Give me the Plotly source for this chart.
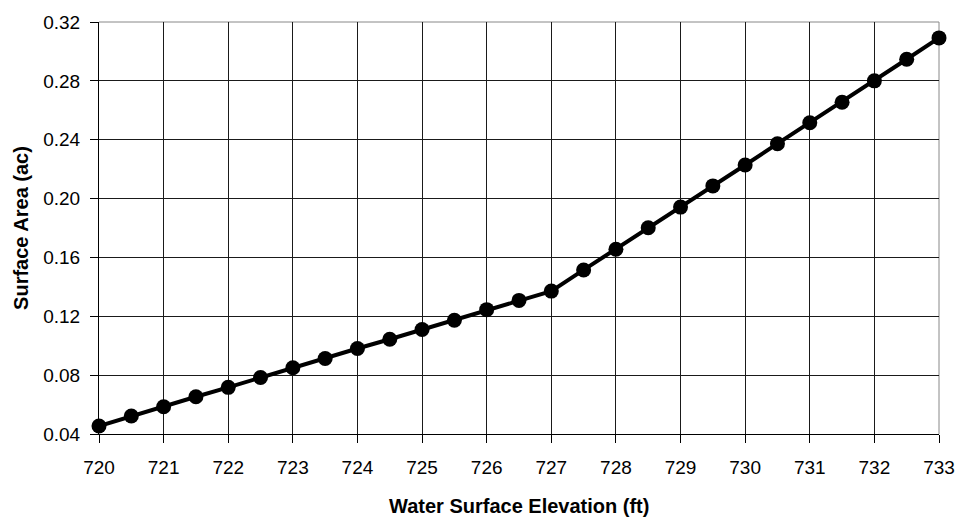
import plotly.graph_objects as go

elevation_ft = [720, 720.5, 721, 721.5, 722, 722.5, 723, 723.5, 724, 724.5,
                725, 725.5, 726, 726.5, 727, 727.5, 728, 728.5, 729, 729.5,
                730, 730.5, 731, 731.5, 732, 732.5, 733]
surface_area_ac = [0.0454, 0.0522, 0.0585, 0.0653, 0.0717, 0.0784, 0.0850, 0.0913,
                   0.0981, 0.1044, 0.1110, 0.1173, 0.1245, 0.1308, 0.1371, 0.1515,
                   0.1656, 0.1802, 0.1942, 0.2086, 0.2228, 0.2373, 0.2515, 0.2655,
                   0.2800, 0.2947, 0.3092]

x_title = "Water Surface Elevation (ft)"
y_title = "Surface Area (ac)"

FONT = "Liberation Sans, Arial, sans-serif"

fig = go.Figure()
fig.add_trace(go.Scatter(
    x=elevation_ft, y=surface_area_ac, mode="lines+markers",
    line=dict(color="black", width=4),
    marker=dict(color="black", size=15),
    cliponaxis=False, showlegend=False, hoverinfo="skip",
))

fig.update_layout(
    width=967, height=519,
    margin=dict(l=99, r=19, t=20, b=85),
    paper_bgcolor="white", plot_bgcolor="white",
    font=dict(family=FONT, size=19, color="black"),
    xaxis=dict(
        range=[720, 733], tick0=720, dtick=1,
        showgrid=True, gridcolor="#1a1a1a", gridwidth=1,
        showline=True, linecolor="black", linewidth=1,
        ticks="outside", ticklen=8, tickcolor="black",
        ticklabelstandoff=8, zeroline=False,
    ),
    yaxis=dict(
        range=[0.04, 0.32], tick0=0.04, dtick=0.04, tickformat=".2f",
        showgrid=True, gridcolor="#1a1a1a", gridwidth=1,
        showline=True, linecolor="black", linewidth=1,
        ticks="outside", ticklen=8, tickcolor="black",
        ticklabelstandoff=6, zeroline=False,
    ),
    shapes=[
        dict(type="line", xref="paper", yref="paper", x0=0, x1=1, y0=1, y1=1,
             line=dict(color="#888", width=1), layer="between"),
        dict(type="line", xref="paper", yref="paper", x0=1, x1=1, y0=0, y1=1,
             line=dict(color="#888", width=1), layer="between"),
    ],
    annotations=[
        dict(text=f"<b>{x_title}</b>", xref="paper", yref="paper",
             x=0.5, y=-0.1739, xanchor="center", yanchor="middle",
             showarrow=False, font=dict(family=FONT, size=20)),
        dict(text=f"<b>{y_title}</b>", xref="paper", yref="paper",
             x=-0.093, y=0.5, xanchor="center", yanchor="middle", textangle=-90,
             showarrow=False, font=dict(family=FONT, size=20)),
    ],
)

fig.write_html(
    "out.html",
    config={"displayModeBar": False},
    post_script="document.body.style.margin='0';document.body.style.overflow='hidden';",
)
